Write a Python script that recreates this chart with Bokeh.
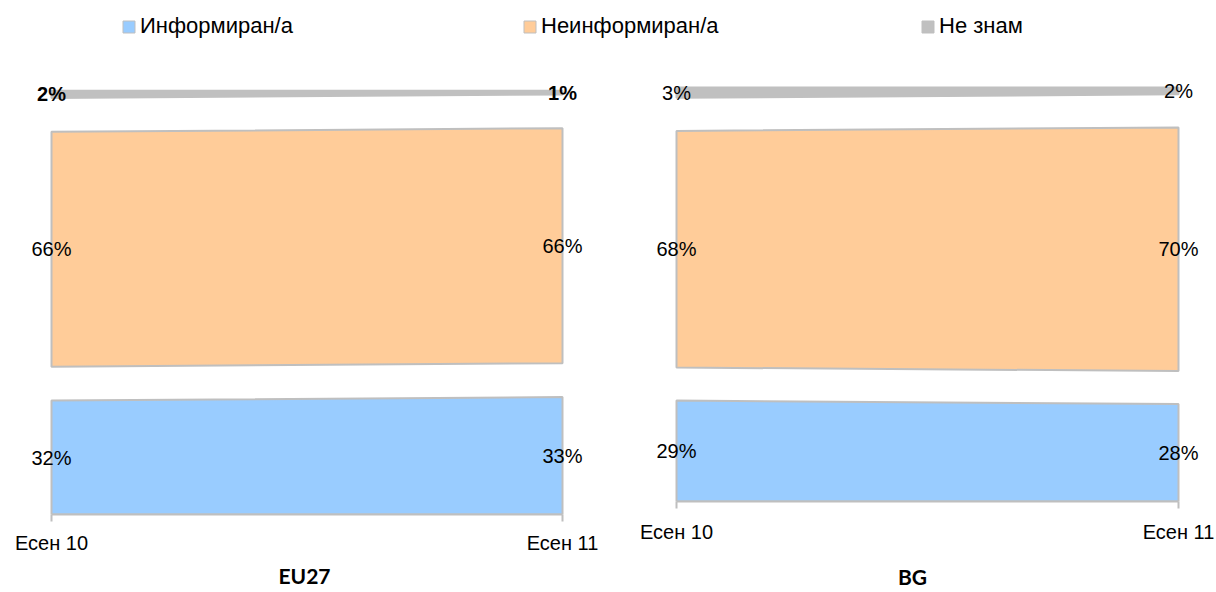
from bokeh.plotting import figure
from bokeh.layouts import column, row
from bokeh.core.properties import value
from bokeh.models import (ColumnDataSource, FixedTicker, Range1d, Legend, LegendItem)
from bokeh.embed import file_html
from bokeh.resources import INLINE

# Survey waves and shares (%) per answer
waves = ["Есен 10", "Есен 11"]
series_names = ["Информиран/а", "Неинформиран/а", "Не знам"]

eu_informed = [32, 33]
eu_uninformed = [66, 66]
eu_dont_know = [2, 1]

bg_informed = [29, 28]
bg_uninformed = [68, 70]
bg_dont_know = [3, 2]

# Styling
fills = ["#99CCFF", "#FFCC99", "#C0C0C0"]
edges = ["#BFBFBF", "#BFBFBF", "#C0C0C0"]
band_gap = 9.5          # visual spacing between stacked bands (in % units)
label_font = "Liberation Sans"


def make_panel(title, series, width, height, x0_px, x1_px, frame_bottom_px,
               px_per_unit, top_bold, tick_standoff, title_standoff):
    unit = x1_px - x0_px
    y_top = frame_bottom_px / px_per_unit
    p = figure(width=width, height=height, title=None,
               x_range=Range1d(-x0_px / unit, (width - x0_px) / unit),
               y_range=Range1d(0, y_top),
               x_axis_location="below", y_axis_location=None,
               toolbar_location=None, output_backend="svg",
               min_border_left=0, min_border_right=0, min_border_top=0,
               min_border_bottom=height - frame_bottom_px)
    p.outline_line_color = None
    p.grid.visible = False
    p.background_fill_color = "white"

    positions = list(range(len(waves)))
    bottoms = [0.0] * len(waves)
    lx, ly, lt, ls = [], [], [], []
    for k, vals in enumerate(series):
        tops = [b + v for b, v in zip(bottoms, vals)]
        p.patch(x=positions + positions[::-1], y=bottoms + tops[::-1],
                fill_color=fills[k], line_color=edges[k], line_width=2)
        for i, v in enumerate(vals):
            lx.append(positions[i])
            ly.append((bottoms[i] + tops[i]) / 2)
            lt.append(f"{v}%")
            ls.append("bold" if (k == len(series) - 1 and top_bold) else "normal")
        bottoms = [t + band_gap for t in tops]

    src = ColumnDataSource(dict(x=lx, y=ly, text=lt, style=ls))
    p.text(x="x", y="y", text="text", source=src, text_align="center",
           text_baseline="middle", text_font=value(label_font),
           text_font_size="20px", text_font_style="style", text_color="black")

    ax = p.xaxis[0]
    ax.ticker = FixedTicker(ticks=positions)
    ax.major_label_overrides = {i: w for i, w in enumerate(waves)}
    ax.bounds = (0, len(waves) - 1)
    ax.axis_line_color = "#BFBFBF"
    ax.axis_line_width = 2
    ax.major_tick_line_color = "#BFBFBF"
    ax.major_tick_line_width = 2
    ax.major_tick_in = 0
    ax.major_tick_out = 7
    ax.minor_tick_line_color = None
    ax.major_label_standoff = tick_standoff
    ax.major_label_text_font = label_font
    ax.major_label_text_font_size = "20px"
    ax.major_label_text_color = "black"
    ax.axis_label = title
    ax.axis_label_text_font = "Lato"
    ax.axis_label_text_font_style = "bold"
    ax.axis_label_text_font_size = "21px"
    ax.axis_label_text_color = "black"
    ax.axis_label_standoff = title_standoff
    return p


p_eu = make_panel("EU27", [eu_informed, eu_uninformed, eu_dont_know],
                  608, 542, 51, 562, 464, 3.56, True, 10, 6)
p_bg = make_panel("BG", [bg_informed, bg_uninformed, bg_dont_know],
                  608, 542, 68, 570, 451, 3.48, False, 12, 18)

# Shared legend strip across the top
leg = figure(width=1216, height=50, title=None, x_range=Range1d(0, 1),
             y_range=Range1d(0, 1), x_axis_location=None, y_axis_location=None,
             toolbar_location=None, output_backend="svg",
             min_border_left=0, min_border_right=0, min_border_top=0,
             min_border_bottom=0)
leg.outline_line_color = None
leg.grid.visible = False

legend_x = [121, 522, 920]
for k, name in enumerate(series_names):
    r = leg.quad(left=[0], right=[0], top=[0], bottom=[0], fill_color=fills[k],
                 line_color="#BFBFBF", line_width=1, visible=False)
    lg = Legend(items=[LegendItem(label=name, renderers=[r])],
                location=(legend_x[k], 50 - 19 - 20), orientation="horizontal",
                glyph_width=15, glyph_height=15, label_standoff=4,
                padding=0, margin=0, spacing=0, border_line_color=None,
                background_fill_alpha=0, label_text_font=label_font,
                label_text_font_size="22px", label_text_color="black",
                label_height=16, inactive_fill_alpha=0)
    leg.add_layout(lg, "center")

# Each panel sits in its own column so their frames are laid out independently
layout = column(leg, row(column(p_eu), column(p_bg), spacing=0), spacing=0)

open("out.html", "w").write(file_html(layout, INLINE))
